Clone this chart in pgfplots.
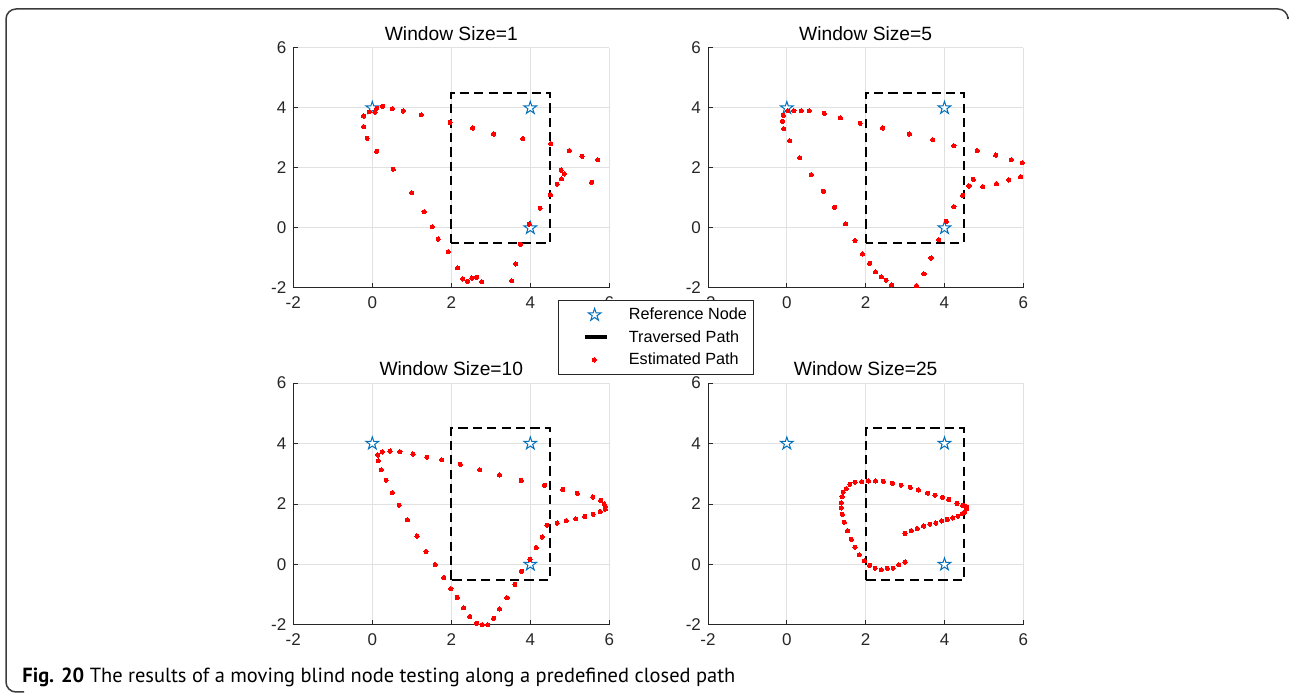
\documentclass[border=0pt]{standalone}
\usepackage{pgfplots}
\pgfplotsset{compat=1.18}
\usepackage{fontspec}
\setmainfont{Liberation Sans}
\newfontfamily\capfont{PT Sans}
\definecolor{axgray}{RGB}{38,38,38}
\definecolor{gridgray}{RGB}{225,225,225}
\definecolor{mblue}{RGB}{0,114,189}
\definecolor{framegray}{RGB}{60,60,60}

\pgfdeclareplotmark{pentagram}{%
  \pgfpathmoveto{\pgfpointpolar{90}{\pgfplotmarksize}}%
  \pgfpathlineto{\pgfpointpolar{126}{0.382\pgfplotmarksize}}%
  \pgfpathlineto{\pgfpointpolar{162}{\pgfplotmarksize}}%
  \pgfpathlineto{\pgfpointpolar{198}{0.382\pgfplotmarksize}}%
  \pgfpathlineto{\pgfpointpolar{234}{\pgfplotmarksize}}%
  \pgfpathlineto{\pgfpointpolar{270}{0.382\pgfplotmarksize}}%
  \pgfpathlineto{\pgfpointpolar{306}{\pgfplotmarksize}}%
  \pgfpathlineto{\pgfpointpolar{342}{0.382\pgfplotmarksize}}%
  \pgfpathlineto{\pgfpointpolar{18}{\pgfplotmarksize}}%
  \pgfpathlineto{\pgfpointpolar{54}{0.382\pgfplotmarksize}}%
  \pgfpathclose
  \pgfusepathqfillstroke
}

\pgfplotsset{
  myax/.style={
    scale only axis, anchor=south west,
    xmin=-2, xmax=6, ymin=-2, ymax=6,
    xtick={-2,0,2,4,6}, ytick={-2,0,2,4,6},
    axis x line*=bottom, axis y line*=left,
    axis line style={draw=axgray, line width=0.5pt},
    tick align=inside, major tick length=2.5pt,
    tick style={draw=axgray, line width=0.5pt},
    grid=major, major grid style={draw=gridgray, line width=0.5pt},
    ticklabel style={font=\fontsize{8.5}{10}\selectfont, text=axgray},
    xticklabel style={yshift=-1pt},
    /pgf/number format/assume math mode=true,
    title style={font=\fontsize{9.6}{11}\selectfont, yshift=-5.8pt},
  },
  refnode/.style={only marks, mark=pentagram, mark size=3.3pt,
    mark options={draw=mblue, fill=white, line width=0.5pt},
    legend image code/.code={\path[draw=none,fill=none] (0pt,-3pt) rectangle (22.85pt,3pt);
      \draw plot coordinates {(16.7pt,0pt)};}},
  travpath/.style={black, line width=1pt, dash pattern=on 4.6pt off 2.6pt, no marks,
    legend image code/.code={\path[draw=none,fill=none] (0pt,-3pt) rectangle (22.85pt,3pt);
      \draw[dash pattern=on 20pt off 0pt, line width=2pt] (11.85pt,0pt) -- (22.85pt,0pt);}},
  estpath/.style={only marks, mark=*, mark size=1.05pt,
    mark options={draw=red, fill=red, line width=0pt},
    legend image code/.code={\path[draw=none,fill=none] (0pt,-3pt) rectangle (22.85pt,3pt);
      \draw plot coordinates {(16.5pt,0pt)};}},
}

\begin{document}
\begin{tikzpicture}
\useasboundingbox (0,0) rectangle (644.5pt,347.5pt);
\draw[framegray, line width=0.75pt, rounded corners=5pt]
  (644pt,339pt) |- (3pt,343pt) |- (12pt,1.5pt);

% ---------- Window Size = 1
\begin{axis}[myax, at={(146.65pt,203.5pt)}, width=158pt, height=120pt,
  title={Window Size=1}]
\addplot[refnode] coordinates {(0,4)(4,4)(4,0)};
\addplot[travpath] coordinates {(2,-0.5)(2,4.5)(4.5,4.5)(4.5,-0.5)(2,-0.5)};
\addplot[estpath] coordinates {
(0.11,3.99)(0.07,3.86)(-0.08,3.87)(-0.22,3.73)(-0.22,3.38)(-0.13,2.99)
(0.11,2.56)(0.53,1.96)(1.00,1.17)(1.31,0.54)(1.52,0.04)(1.67,-0.37)
(1.92,-0.79)(2.16,-1.33)(2.29,-1.70)(2.41,-1.78)(2.52,-1.67)(2.64,-1.64)
(2.77,-1.79)(3.53,-1.76)(3.63,-1.20)(3.75,-0.54)(3.97,0.13)(4.25,0.66)
(4.51,1.11)(4.68,1.46)(4.79,1.64)(4.86,1.80)(4.78,1.93)(5.55,1.52)
(5.31,2.39)(4.99,2.58)(5.71,2.27)(4.52,2.81)(3.81,2.98)(3.07,3.13)
(2.54,3.33)(1.97,3.52)(1.24,3.77)(0.78,3.90)(0.51,3.98)(0.26,4.06)};
\end{axis}

% ---------- Window Size = 5
\begin{axis}[myax, at={(354pt,203.5pt)}, width=157.65pt, height=120pt,
  title={Window Size=5},
  legend style={at={(-0.4748,-0.05)}, anchor=north west,
    draw=axgray, line width=0.5pt, fill=white,
    inner xsep=1.2pt, inner ysep=1.6pt,
    font=\fontsize{8.1}{9.6}\selectfont,
    nodes={inner sep=2pt, text height=6pt, text depth=1.25pt},
    /tikz/every odd column/.append style={column sep=8pt}},
  legend cell align=left]
\addplot[refnode] coordinates {(0,4)(4,4)(4,0)};
\addlegendentry{Reference Node}
\addplot[travpath] coordinates {(2,-0.5)(2,4.5)(4.5,4.5)(4.5,-0.5)(2,-0.5)};
\addlegendentry{Traversed Path}
\addplot[estpath] coordinates {
(0.02,3.91)(0.18,3.91)(0.37,3.91)(0.57,3.91)(0.95,3.82)(1.36,3.67)
(1.86,3.49)(2.43,3.33)(3.11,3.13)(3.70,2.94)(4.24,2.74)(4.83,2.58)
(5.30,2.43)(5.70,2.28)(5.97,2.17)(-0.09,3.76)(-0.11,3.56)(-0.08,3.31)
(0.07,2.91)(0.33,2.34)(0.62,1.78)(0.93,1.22)(1.21,0.69)(1.49,0.14)
(1.73,-0.42)(1.92,-0.87)(2.10,-1.18)(2.25,-1.46)(2.40,-1.63)(2.52,-1.74)
(2.66,-1.90)(3.29,-1.92)(3.48,-1.53)(3.66,-1.00)(3.85,-0.39)(4.05,0.22)
(4.24,0.71)(4.46,1.09)(4.62,1.40)(4.73,1.62)(4.97,1.38)(5.32,1.48)
(5.63,1.60)(5.93,1.71)};
\addlegendentry{Estimated Path}
\end{axis}

% ---------- Window Size = 10
\begin{axis}[myax, at={(146.65pt,35pt)}, width=158pt, height=121pt,
  title={Window Size=10}]
\addplot[refnode] coordinates {(0,4)(4,4)(4,0)};
\addplot[travpath] coordinates {(2,-0.5)(2,4.5)(4.5,4.5)(4.5,-0.5)(2,-0.5)};
\addplot[estpath] coordinates {
(0.25,3.72)(0.45,3.75)(0.70,3.73)(1.03,3.65)(1.38,3.55)(1.76,3.46)
(2.23,3.31)(2.72,3.13)(3.22,2.96)(3.77,2.78)(4.36,2.62)(4.82,2.48)
(5.19,2.35)(5.58,2.23)(5.78,2.12)(5.87,2.00)(5.90,1.92)(5.90,1.83)
(5.77,1.75)(5.59,1.66)(5.38,1.59)(5.15,1.51)(4.91,1.45)(4.68,1.37)
(4.42,1.30)(4.30,0.91)(4.15,0.56)(3.99,0.17)(3.78,-0.22)(3.61,-0.66)
(3.41,-1.10)(3.22,-1.47)(3.07,-1.78)(2.92,-1.99)(2.78,-1.99)(2.64,-1.94)
(2.47,-1.72)(2.31,-1.43)(2.15,-1.09)(1.99,-0.80)(1.81,-0.43)(1.59,0.00)
(1.36,0.43)(1.13,0.94)(0.89,1.48)(0.68,1.96)(0.51,2.38)(0.35,2.79)
(0.23,3.13)(0.15,3.43)(0.14,3.62)};
\end{axis}

% ---------- Window Size = 25
\begin{axis}[myax, at={(354pt,35pt)}, width=157.65pt, height=121pt,
  title={Window Size=25}]
\addplot[refnode] coordinates {(0,4)(4,4)(4,0)};
\addplot[travpath] coordinates {(2,-0.5)(2,4.5)(4.5,4.5)(4.5,-0.5)(2,-0.5)};
\addplot[estpath] coordinates {
(3.00,1.03)(3.16,1.12)(3.31,1.19)(3.47,1.27)(3.63,1.33)(3.78,1.37)
(3.93,1.44)(4.07,1.49)(4.21,1.54)(4.34,1.60)(4.45,1.68)(4.51,1.72)
(4.56,1.85)(4.56,1.89)(4.52,1.93)(4.46,1.96)(4.32,2.02)(4.11,2.15)
(3.95,2.22)(3.76,2.29)(3.57,2.36)(3.34,2.46)(3.13,2.55)(2.90,2.62)
(2.68,2.69)(2.45,2.75)(2.25,2.76)(2.07,2.76)(1.90,2.74)(1.73,2.72)
(1.60,2.65)(1.51,2.51)(1.43,2.39)(1.40,2.24)(1.38,2.04)(1.38,1.87)
(1.41,1.66)(1.46,1.40)(1.54,1.12)(1.64,0.83)(1.73,0.57)(1.84,0.32)
(1.97,0.12)(2.10,-0.03)(2.24,-0.12)(2.40,-0.17)(2.55,-0.13)(2.70,-0.12)
(2.84,-0.01)(3.00,0.08)};
\end{axis}

\node[anchor=base west, inner sep=0pt] at (11pt,6.2pt)
  {\resizebox{356.5pt}{!}{\capfont\fontsize{9.5}{11}\selectfont\textbf{Fig. 20} The results of a moving blind node testing along a predefined closed path}};
\end{tikzpicture}
\end{document}
